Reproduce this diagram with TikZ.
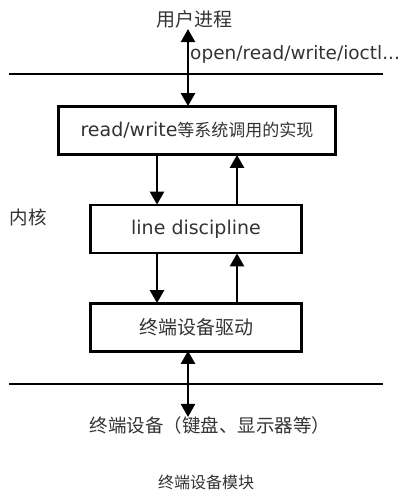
\documentclass[tikz,border=0pt]{standalone}
\usepackage{fontspec}
\setmainfont{DejaVu Sans}
\newfontfamily\cjk{Noto Sans CJK SC}
\usetikzlibrary{arrows.meta}
\begin{document}
\begin{tikzpicture}[x=1pt,y=-1pt,
  blk/.style={draw,line width=2.7pt,inner sep=0pt,text=black!80},
  lbl/.style={inner sep=0pt,text=black!80},
  arr/.style={line width=2.4pt,-{Triangle[width=14pt,length=13pt]}},
  dbl/.style={line width=2.4pt,{Triangle[width=14pt,length=13pt]}-{Triangle[width=14pt,length=13pt]}},
  sep/.style={line width=2.7pt}]
\useasboundingbox (0,0) rectangle (419,497);
% separator lines
\coordinate (tl) at (9,74);
\coordinate (tr) at (383,74);
\coordinate (bl) at (9,384);
\coordinate (br) at (383,384);
\draw[sep] (tl) -- (tr);
\draw[sep] (bl) -- (br);
% boxes
\node[blk,minimum width=277pt,minimum height=48pt] (b1) at (197,130.5)
  {\fontsize{19pt}{22pt}\selectfont read/write{\cjk\fontsize{17pt}{20pt}\selectfont 等系统调用的实现}};
\node[blk,minimum width=211pt,minimum height=48pt] (b2) at (196,229)
  {\fontsize{19pt}{22pt}\selectfont line discipline};
\node[blk,minimum width=211pt,minimum height=48pt] (b3) at (196,327.5)
  {\cjk\fontsize{19pt}{22pt}\selectfont 终端设备驱动};
% labels
\node[lbl] (user) at (194,19) {\cjk\fontsize{19pt}{22pt}\selectfont 用户进程};
\node[lbl,anchor=west] (sys) at (190,54) {\fontsize{18.5pt}{22pt}\selectfont open/read/write/ioctl...};
\node[lbl] (kern) at (28,217) {\cjk\fontsize{18.5pt}{22pt}\selectfont 内核};
\node[lbl] (dev) at (210,425) {\cjk\fontsize{18.5pt}{22pt}\selectfont 终端设备（键盘、显示器等）};
\node[lbl] (mod) at (206,482) {\cjk\fontsize{16pt}{20pt}\selectfont 终端设备模块};
% arrow x positions
\coordinate (xa) at (188,0);
\coordinate (xd) at (157,0);
\coordinate (xu) at (237,0);
% connectors
\draw[dbl] ([yshift=-1pt]user.south -| xa) -- ([yshift=-1pt]b1.north -| xa);
\draw[arr] (b1.south -| xd) -- ([yshift=-1pt]b2.north -| xd);
\draw[arr] (b2.north -| xu) -- ([yshift=1pt]b1.south -| xu);
\draw[arr] (b2.south -| xd) -- ([yshift=-1pt]b3.north -| xd);
\draw[arr] (b3.north -| xu) -- ([yshift=1pt]b2.south -| xu);
\draw[dbl] ([yshift=2pt]b3.south -| xa) -- ([yshift=-1pt]dev.north -| xa);
\end{tikzpicture}
\end{document}
